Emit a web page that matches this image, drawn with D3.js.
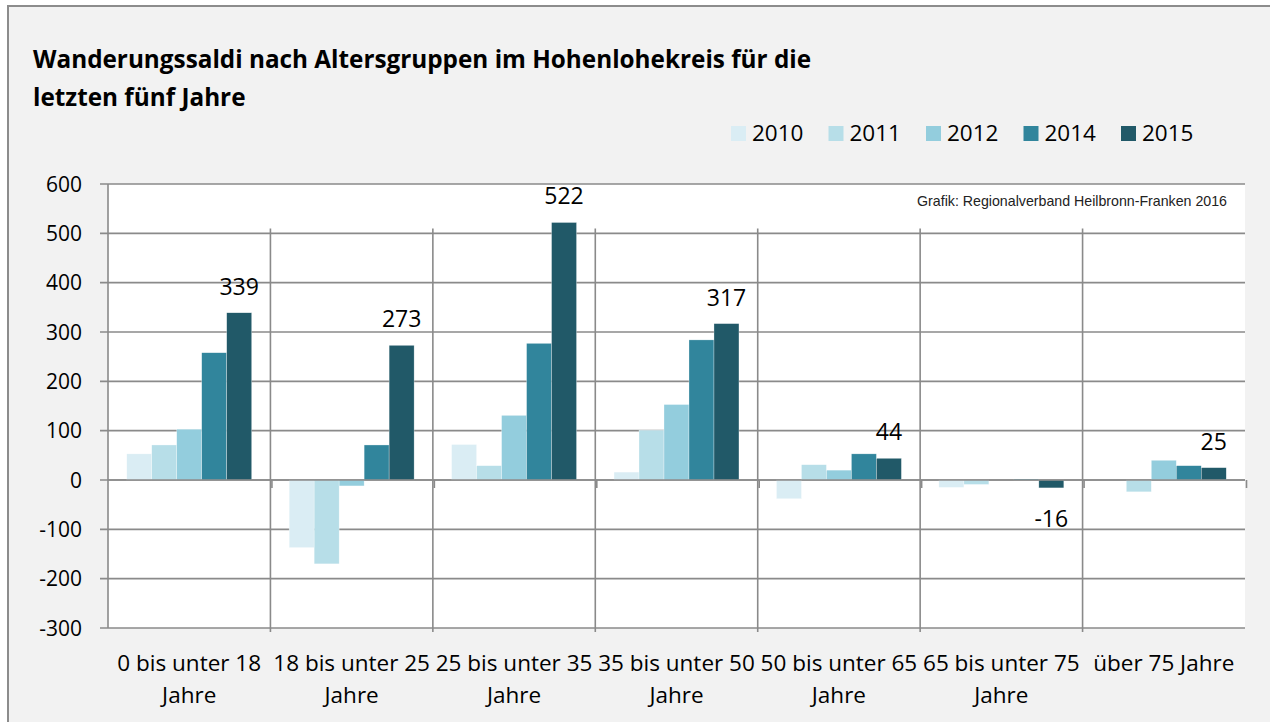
<!DOCTYPE html>
<html>
<head>
<meta charset="utf-8">
<script src="https://cdn.jsdelivr.net/npm/d3@7"></script>
<style>
  html, body { margin: 0; padding: 0; background: #ffffff; }
  svg { display: block; }
</style>
</head>
<body>
<svg id="chart" width="1270" height="722" font-family="'Open Sans', sans-serif"></svg>
<script>
// ---- data ----
const categories = ["0-18", "18-25", "25-35", "35-50", "50-65", "65-75", "75+"];
const categoryLabels = [
  ["0 bis unter 18", "Jahre"],
  ["18 bis unter 25", "Jahre"],
  ["25 bis unter 35", "Jahre"],
  ["35 bis unter 50", "Jahre"],
  ["50 bis unter 65", "Jahre"],
  ["65 bis unter 75", "Jahre"],
  ["über 75 Jahre"]
];
const years = ["2010", "2011", "2012", "2014", "2015"];
const values2010 = [53, -137, 72, 16, -38, -15, 0];
const values2011 = [71, -170, 29, 101, 31, -9, -24];
const values2012 = [103, -12, 131, 153, 20, 0, 40];
const values2014 = [258, 71, 277, 284, 53, 2, 29];
const values2015 = [339, 273, 522, 317, 44, -16, 25];
const seriesValues = [values2010, values2011, values2012, values2014, values2015];
const colors = ["#daedf4", "#b7dee8", "#93cddd", "#31859c", "#215968"];
const yTicks = [-300, -200, -100, 0, 100, 200, 300, 400, 500, 600];
const labelledSeries = "2015";
const titleLines = ["Wanderungssaldi nach Altersgruppen im Hohenlohekreis für die", "letzten fünf Jahre"];
const sourceText = "Grafik: Regionalverband Heilbronn-Franken 2016";

// ---- layout ----
const svg = d3.select("#chart");
const plot = { left: 108, right: 1245, top: 184, bottom: 628 };
const gridColor = "#8a8a8a";

// frame
svg.append("rect")
  .attr("x", 8).attr("y", 6).attr("width", 1280).attr("height", 740)
  .attr("fill", "#f2f2f2").attr("stroke", "#8c8c8c").attr("stroke-width", 2);

// plot background
svg.append("rect")
  .attr("x", plot.left).attr("y", plot.top)
  .attr("width", plot.right - plot.left).attr("height", plot.bottom - plot.top)
  .attr("fill", "#ffffff");

const y = d3.scaleLinear().domain([-300, 600]).range([plot.bottom, plot.top]);
const x0 = d3.scaleBand().domain(categories).range([plot.left, plot.right]).padding(0);
const x1 = d3.scaleBand().domain(years).range([0, x0.bandwidth()]).paddingInner(0).paddingOuter(0.75);

// title
svg.append("g").selectAll("text").data(titleLines).join("text")
  .attr("x", 33).attr("y", (d, i) => 68 + i * 38)
  .attr("font-size", 24.3).attr("font-weight", 700).attr("fill", "#000")
  .text(d => d);

// legend
const legendX = d3.scalePoint().domain(years).range([731, 1121]);
const leg = svg.append("g").selectAll("g").data(years).join("g")
  .attr("transform", d => `translate(${legendX(d)},0)`);
leg.append("rect").attr("x", 0).attr("y", 126).attr("width", 15).attr("height", 15)
  .attr("fill", (d, i) => colors[i]);
leg.append("text").attr("x", 21).attr("y", 141).attr("font-size", 22.5).attr("fill", "#000")
  .text(d => d);

// horizontal gridlines + y tick marks
svg.append("g").selectAll("line").data(yTicks).join("line")
  .attr("x1", plot.left - 8).attr("x2", plot.right)
  .attr("y1", d => y(d)).attr("y2", d => y(d))
  .attr("stroke", gridColor).attr("stroke-width", 1.6);

// y tick labels
svg.append("g").selectAll("text").data(yTicks).join("text")
  .attr("x", 82).attr("y", d => y(d)).attr("dy", "0.36em")
  .attr("text-anchor", "end").attr("font-size", 21).attr("fill", "#000")
  .text(d => d);

// left axis line
svg.append("line")
  .attr("x1", plot.left).attr("x2", plot.left)
  .attr("y1", plot.top).attr("y2", plot.bottom)
  .attr("stroke", gridColor).attr("stroke-width", 1.6);

// vertical category separators
const boundaries = categories.slice(1).map(c => x0(c));
svg.append("g").selectAll("line").data(boundaries).join("line")
  .attr("x1", d => d).attr("x2", d => d)
  .attr("y1", y(510)).attr("y2", plot.bottom + 4)
  .attr("stroke", gridColor).attr("stroke-width", 1.6);

// source text
svg.append("text")
  .attr("x", 1227).attr("y", 206).attr("text-anchor", "end")
  .style("font-family", "'Liberation Sans', Arial, sans-serif")
  .attr("font-size", 14.2).attr("fill", "#222")
  .text(sourceText);

// bars
const groups = svg.append("g").selectAll("g").data(categories).join("g")
  .attr("transform", d => `translate(${x0(d)},0)`);
groups.selectAll("rect")
  .data((c, ci) => years.map((yr, si) => ({ yr, si, v: seriesValues[si][ci] })))
  .join("rect")
  .attr("x", d => x1(d.yr))
  .attr("width", x1.bandwidth())
  .attr("y", d => y(Math.max(0, d.v)))
  .attr("height", d => Math.abs(y(d.v) - y(0)))
  .attr("fill", d => colors[d.si])
  .attr("stroke", "#ffffff").attr("stroke-width", 0.5).attr("stroke-opacity", 0.6);

// zero axis line with ticks
svg.append("line")
  .attr("x1", plot.left).attr("x2", plot.right)
  .attr("y1", y(0)).attr("y2", y(0))
  .attr("stroke", gridColor).attr("stroke-width", 1.6);
const axisTicks = categories.slice(1).map(c => x0(c)).concat([plot.right]);
svg.append("g").selectAll("line").data(axisTicks).join("line")
  .attr("x1", d => d + 1.5).attr("x2", d => d + 1.5)
  .attr("y1", y(0)).attr("y2", y(0) + 8)
  .attr("stroke", gridColor).attr("stroke-width", 1.6);

// data labels (2015)
const li = years.indexOf(labelledSeries);
svg.append("g").selectAll("text").data(categories).join("text")
  .attr("x", c => x0(c) + x1(labelledSeries) + x1.bandwidth() / 2)
  .attr("y", (c, ci) => {
    const v = seriesValues[li][ci];
    return v >= 0 ? y(v) - 18 : y(v) + 39;
  })
  .attr("text-anchor", "middle").attr("font-size", 23).attr("fill", "#000")
  .text((c, ci) => seriesValues[li][ci]);

// x category labels
const xl = svg.append("g").selectAll("text").data(categories).join("text")
  .attr("x", c => x0(c) + x0.bandwidth() / 2)
  .attr("text-anchor", "middle").attr("font-size", 22.5).attr("fill", "#000");
xl.selectAll("tspan").data((c, ci) => categoryLabels[ci]).join("tspan")
  .attr("x", function () { return d3.select(this.parentNode).attr("x"); })
  .attr("y", (d, i) => 671 + i * 32)
  .text(d => d);
</script>
</body>
</html>
